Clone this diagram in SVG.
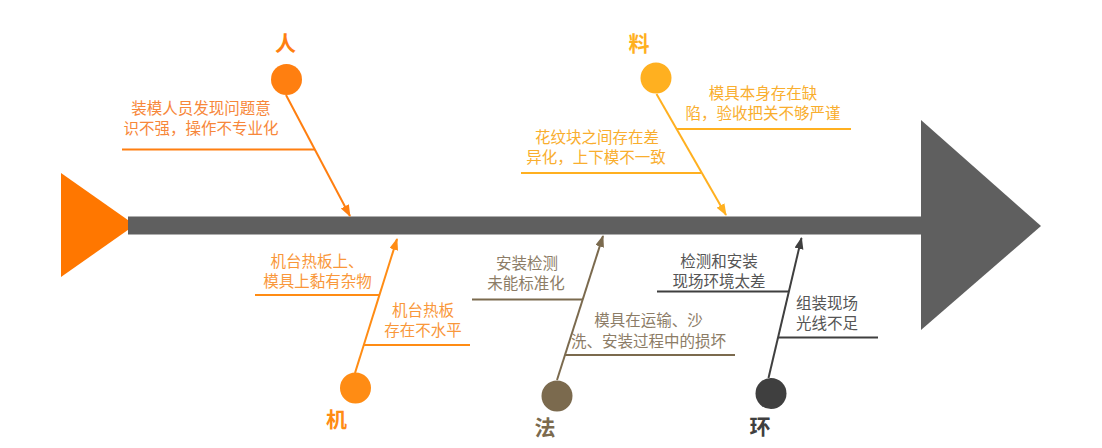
<svg xmlns="http://www.w3.org/2000/svg" width="1102" height="448" viewBox="0 0 1102 448">
<style>
  .t { font-family: "Noto Sans CJK SC", "Noto Sans", sans-serif; font-size: 15.5px; text-anchor: middle; }
  .lbl { font-family: "Noto Sans CJK SC", "Noto Sans", sans-serif; font-size: 21px; font-weight: bold; text-anchor: middle; }
  .br { stroke-width: 2; fill: none; }
  .diag { stroke-width: 2; fill: none; }
</style>
<defs>
  <marker id="mRen" markerUnits="userSpaceOnUse" markerWidth="12" markerHeight="10" refX="11" refY="4.5" orient="auto"><path d="M0,0 L12,4.5 L0,9 z" fill="#FF7F10"/></marker>
  <marker id="mLiao" markerUnits="userSpaceOnUse" markerWidth="12" markerHeight="10" refX="11" refY="4.5" orient="auto"><path d="M0,0 L12,4.5 L0,9 z" fill="#FFB020"/></marker>
  <marker id="mJi" markerUnits="userSpaceOnUse" markerWidth="12" markerHeight="10" refX="11" refY="4.5" orient="auto"><path d="M0,0 L12,4.5 L0,9 z" fill="#FF8C14"/></marker>
  <marker id="mFa" markerUnits="userSpaceOnUse" markerWidth="12" markerHeight="10" refX="11" refY="4.5" orient="auto"><path d="M0,0 L12,4.5 L0,9 z" fill="#7B6A4E"/></marker>
  <marker id="mHuan" markerUnits="userSpaceOnUse" markerWidth="12" markerHeight="10" refX="11" refY="4.5" orient="auto"><path d="M0,0 L12,4.5 L0,9 z" fill="#3F3F3F"/></marker>
</defs>
<rect width="1102" height="448" fill="#FFFFFF"/>

<g id="spine">
  <polygon points="61,173 135,225 61,277" fill="#FF7700"/>
  <rect x="128" y="216.5" width="795" height="18" fill="#5F5F5F"/>
  <polygon points="921,120 1041,226 921,330" fill="#5F5F5F"/>
</g>

<g id="connectors">
  <line class="diag" x1="286" y1="95" x2="350" y2="216" stroke="#FF7F10" marker-end="url(#mRen)"/>
  <line class="diag" x1="656.5" y1="94" x2="726" y2="215" stroke="#FFB020" marker-end="url(#mLiao)"/>
  <line class="diag" x1="355" y1="373" x2="397" y2="239" stroke="#FF8C14" marker-end="url(#mJi)"/>
  <line class="diag" x1="557" y1="380" x2="603" y2="236" stroke="#7B6A4E" marker-end="url(#mFa)"/>
  <line class="diag" x1="768.5" y1="378" x2="801.5" y2="238" stroke="#3F3F3F" marker-end="url(#mHuan)"/>
</g>

<g id="ren">
  <text class="lbl" x="285.5" y="51" fill="#FF7F10">人</text>
  <circle cx="286.5" cy="79.5" r="15.5" fill="#FF7F10"/>
  <line class="br" x1="122" y1="149.5" x2="315" y2="149.5" stroke="#FF7F10"/>
  <text class="t" x="201" y="114" fill="#F7873A">装模人员发现问题意</text>
  <text class="t" x="201" y="134" fill="#F7873A">识不强，操作不专业化</text>
</g>

<g id="liao">
  <text class="lbl" x="639" y="51" fill="#FFB020">料</text>
  <circle cx="656" cy="78" r="15.5" fill="#FFB020"/>
  <line class="br" x1="676" y1="129" x2="851" y2="129" stroke="#FFB020"/>
  <text class="t" x="763" y="99" fill="#F9AE2E">模具本身存在缺</text>
  <text class="t" x="763" y="119" fill="#F9AE2E">陷，验收把关不够严谨</text>
  <line class="br" x1="521" y1="173" x2="701" y2="173" stroke="#FFB020"/>
  <text class="t" x="597" y="142.5" fill="#F9AE2E">花纹块之间存在差</text>
  <text class="t" x="596" y="162.5" fill="#F9AE2E">异化，上下模不一致</text>
</g>

<g id="ji">
  <circle cx="355.5" cy="388" r="15.5" fill="#FF8C14"/>
  <text class="lbl" x="336.5" y="427" fill="#FF8C14">机</text>
  <line class="br" x1="255" y1="295" x2="379.5" y2="295" stroke="#FF8C14"/>
  <text class="t" x="317" y="267" fill="#F9973A">机台热板上、</text>
  <text class="t" x="317.5" y="287" fill="#F9973A">模具上黏有杂物</text>
  <line class="br" x1="364" y1="345" x2="470" y2="345" stroke="#FF8C14"/>
  <text class="t" x="423" y="315.5" fill="#F9973A">机台热板</text>
  <text class="t" x="423" y="335.5" fill="#F9973A">存在不水平</text>
</g>

<g id="fa">
  <circle cx="557" cy="396" r="15.5" fill="#7B6A4E"/>
  <text class="lbl" x="545" y="435" fill="#7B6A4E">法</text>
  <line class="br" x1="472" y1="299.5" x2="583" y2="299.5" stroke="#7B6A4E"/>
  <text class="t" x="527" y="269" fill="#8C7C66">安装检测</text>
  <text class="t" x="526" y="289" fill="#8C7C66">未能标准化</text>
  <line class="br" x1="565" y1="355" x2="735" y2="355" stroke="#7B6A4E"/>
  <text class="t" x="648.5" y="325.5" fill="#8C7C66">模具在运输、沙</text>
  <text class="t" x="648.5" y="347" fill="#8C7C66">洗、安装过程中的损坏</text>
</g>

<g id="huan">
  <circle cx="771" cy="393.5" r="15.5" fill="#3F3F3F"/>
  <text class="lbl" x="760" y="434" fill="#3F3F3F">环</text>
  <line class="br" x1="657" y1="291.5" x2="789" y2="291.5" stroke="#3F3F3F"/>
  <text class="t" x="719" y="266.5" fill="#555555">检测和安装</text>
  <text class="t" x="719" y="286.5" fill="#555555">现场环境太差</text>
  <line class="br" x1="778" y1="337.5" x2="878" y2="337.5" stroke="#3F3F3F"/>
  <text class="t" x="827" y="309" fill="#555555">组装现场</text>
  <text class="t" x="827" y="329" fill="#555555">光线不足</text>
</g>
</svg>
